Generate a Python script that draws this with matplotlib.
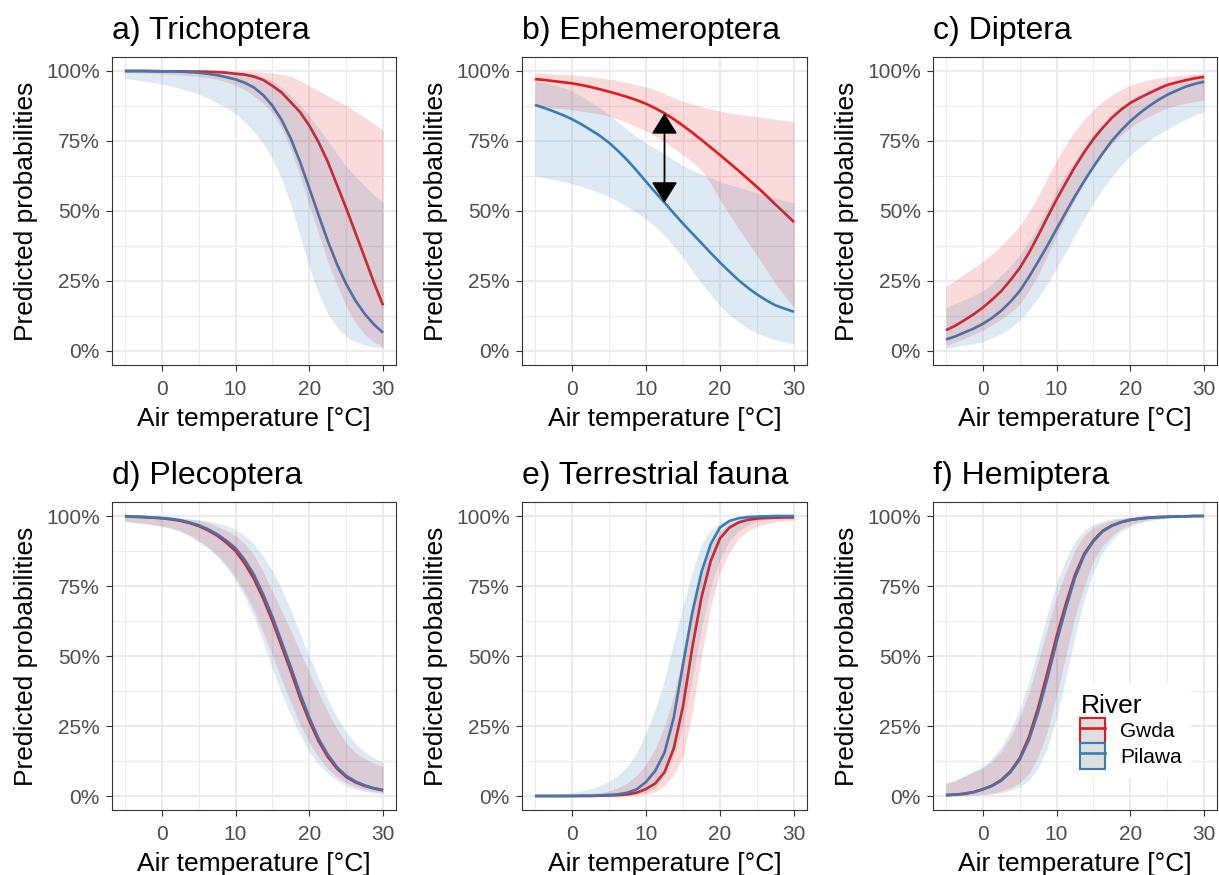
import matplotlib
matplotlib.use("Agg")
import matplotlib.pyplot as plt
from matplotlib.patches import Patch
from matplotlib.lines import Line2D
from matplotlib.legend_handler import HandlerTuple

plt.rcParams['font.family'] = ['Liberation Sans', 'DejaVu Sans']

temperature = [-5, -3.75, -2.5, -1.25, 0, 1.25, 2.5, 3.75, 5, 6.25, 7.5, 8.75, 10, 11.25,
               12.5, 13.75, 15, 16.25, 17.5, 18.75, 20, 21.25, 22.5, 23.75, 25, 26.25,
               27.5, 28.75, 30]

titles = ["a) Trichoptera", "b) Ephemeroptera", "c) Diptera",
          "d) Plecoptera", "e) Terrestrial fauna", "f) Hemiptera"]
rivers = ["Gwda", "Pilawa"]

# a) Trichoptera
a_gwda_fit = [1.0, 1.0, 1.0, 1.0, 0.999, 0.999, 0.999, 0.998, 0.998, 0.997, 0.996, 0.994, 0.99, 0.987,
              0.98, 0.968, 0.947, 0.923, 0.888, 0.853, 0.805, 0.746, 0.676, 0.593, 0.51, 0.422,
              0.334, 0.245, 0.163]
a_gwda_lo = [0.995, 0.994, 0.993, 0.992, 0.99, 0.988, 0.986, 0.983, 0.98, 0.976, 0.97, 0.961, 0.95, 0.933,
             0.91, 0.885, 0.85, 0.795, 0.72, 0.625, 0.52, 0.42, 0.32, 0.235, 0.16, 0.1, 0.06, 0.033, 0.015]
a_gwda_hi = [1.0, 1.0, 1.0, 1.0, 1.0, 1.0, 1.0, 1.0, 1.0, 1.0, 1.0, 1.0, 0.999, 0.999,
             0.998, 0.996, 0.993, 0.988, 0.98, 0.966, 0.947, 0.93, 0.912, 0.894, 0.876, 0.856,
             0.835, 0.812, 0.788]
a_pil_fit = [1.0, 1.0, 1.0, 0.999, 0.999, 0.999, 0.998, 0.996, 0.994, 0.99, 0.985, 0.978, 0.97, 0.958,
             0.941, 0.914, 0.876, 0.825, 0.758, 0.675, 0.581, 0.486, 0.393, 0.31, 0.239, 0.18,
             0.133, 0.095, 0.065]
a_pil_lo = [0.973, 0.969, 0.964, 0.959, 0.953, 0.946, 0.937, 0.928, 0.917, 0.903, 0.886, 0.868, 0.847,
            0.818, 0.782, 0.74, 0.688, 0.615, 0.522, 0.41, 0.298, 0.205, 0.133, 0.085, 0.051, 0.033,
            0.021, 0.014, 0.009]
a_pil_hi = [1.0, 1.0, 1.0, 1.0, 1.0, 1.0, 1.0, 1.0, 1.0, 0.999, 0.999, 0.998, 0.998, 0.995,
            0.99, 0.98, 0.965, 0.942, 0.912, 0.878, 0.84, 0.796, 0.75, 0.705, 0.66, 0.622,
            0.59, 0.558, 0.53]

# b) Ephemeroptera
b_gwda_fit = [0.971, 0.968, 0.964, 0.96, 0.956, 0.95, 0.943, 0.935, 0.926, 0.917, 0.907, 0.896, 0.883,
              0.867, 0.849, 0.828, 0.805, 0.78, 0.754, 0.727, 0.70, 0.672, 0.644, 0.615, 0.586,
              0.555, 0.523, 0.492, 0.46]
b_gwda_lo = [0.874, 0.871, 0.868, 0.865, 0.862, 0.857, 0.852, 0.846, 0.839, 0.828, 0.815, 0.801, 0.786,
             0.768, 0.747, 0.724, 0.70, 0.675, 0.645, 0.598, 0.54, 0.488, 0.437, 0.388, 0.34, 0.29,
             0.24, 0.197, 0.155]
b_gwda_hi = [0.992, 0.991, 0.989, 0.988, 0.986, 0.983, 0.979, 0.975, 0.971, 0.965, 0.958, 0.951, 0.943,
             0.932, 0.92, 0.905, 0.892, 0.881, 0.872, 0.864, 0.857, 0.851, 0.846, 0.841, 0.837, 0.832,
             0.828, 0.824, 0.82]
b_pil_fit = [0.879, 0.868, 0.856, 0.843, 0.828, 0.81, 0.79, 0.769, 0.744, 0.714, 0.681, 0.644, 0.605,
             0.567, 0.53, 0.492, 0.455, 0.42, 0.385, 0.35, 0.316, 0.284, 0.253, 0.226, 0.202, 0.181,
             0.163, 0.151, 0.14]
b_pil_lo = [0.626, 0.619, 0.612, 0.605, 0.598, 0.588, 0.577, 0.565, 0.551, 0.534, 0.515, 0.494, 0.471,
            0.444, 0.412, 0.375, 0.333, 0.287, 0.242, 0.2, 0.162, 0.13, 0.103, 0.081, 0.064, 0.051,
            0.04, 0.032, 0.025]
b_pil_hi = [0.966, 0.959, 0.95, 0.941, 0.929, 0.911, 0.89, 0.868, 0.844, 0.817, 0.79, 0.765, 0.743,
            0.724, 0.705, 0.683, 0.662, 0.646, 0.632, 0.618, 0.604, 0.594, 0.585, 0.575, 0.564, 0.555,
            0.546, 0.537, 0.529]
b_arrow_temp = 12.5
b_arrow_from = 0.53
b_arrow_to = 0.849

# c) Diptera
c_gwda_fit = [0.074, 0.09, 0.11, 0.131, 0.155, 0.183, 0.214, 0.253, 0.296, 0.35, 0.412, 0.477, 0.541,
              0.6, 0.658, 0.71, 0.757, 0.797, 0.833, 0.862, 0.886, 0.904, 0.92, 0.936, 0.95, 0.959,
              0.967, 0.974, 0.979]
c_gwda_lo = [0.02, 0.032, 0.045, 0.059, 0.074, 0.093, 0.114, 0.138, 0.167, 0.215, 0.272, 0.34, 0.412,
             0.478, 0.541, 0.602, 0.658, 0.702, 0.74, 0.771, 0.798, 0.82, 0.838, 0.854, 0.868, 0.877,
             0.885, 0.891, 0.897]
c_gwda_hi = [0.231, 0.252, 0.275, 0.297, 0.319, 0.347, 0.377, 0.41, 0.447, 0.497, 0.553, 0.617, 0.681,
             0.737, 0.786, 0.827, 0.862, 0.891, 0.915, 0.934, 0.95, 0.96, 0.968, 0.974, 0.979, 0.983,
             0.986, 0.989, 0.991]
c_pil_fit = [0.041, 0.052, 0.066, 0.08, 0.097, 0.118, 0.144, 0.176, 0.214, 0.264, 0.319, 0.376, 0.436,
             0.495, 0.553, 0.607, 0.658, 0.706, 0.751, 0.788, 0.821, 0.849, 0.874, 0.896, 0.915, 0.93,
             0.944, 0.954, 0.962]
c_pil_lo = [0.01, 0.015, 0.02, 0.026, 0.033, 0.046, 0.062, 0.083, 0.109, 0.146, 0.19, 0.24, 0.296,
            0.353, 0.412, 0.472, 0.529, 0.578, 0.623, 0.663, 0.699, 0.726, 0.751, 0.772, 0.792, 0.81,
            0.827, 0.842, 0.856]
c_pil_hi = [0.155, 0.17, 0.183, 0.198, 0.214, 0.24, 0.27, 0.304, 0.342, 0.392, 0.447, 0.51, 0.576,
            0.63, 0.681, 0.73, 0.775, 0.808, 0.839, 0.866, 0.891, 0.91, 0.925, 0.938, 0.95, 0.959,
            0.967, 0.974, 0.979]

# d) Plecoptera
d_gwda_fit = [0.999, 0.997, 0.996, 0.994, 0.992, 0.988, 0.983, 0.975, 0.964, 0.949, 0.93, 0.905, 0.875,
              0.83, 0.775, 0.705, 0.625, 0.535, 0.445, 0.35, 0.268, 0.196, 0.14, 0.098, 0.068, 0.049,
              0.036, 0.027, 0.02]
d_gwda_lo = [0.982, 0.978, 0.975, 0.97, 0.965, 0.958, 0.947, 0.932, 0.912, 0.89, 0.862, 0.826, 0.782,
             0.727, 0.664, 0.585, 0.5, 0.415, 0.334, 0.255, 0.19, 0.138, 0.098, 0.068, 0.047, 0.033,
             0.023, 0.016, 0.012]
d_gwda_hi = [0.999, 0.998, 0.998, 0.997, 0.995, 0.993, 0.991, 0.988, 0.985, 0.976, 0.963, 0.948, 0.93,
             0.9, 0.86, 0.8, 0.73, 0.66, 0.59, 0.515, 0.44, 0.37, 0.3, 0.24, 0.19, 0.155, 0.133,
             0.117, 0.104]
d_pil_fit = [1.0, 0.998, 0.997, 0.995, 0.993, 0.99, 0.985, 0.977, 0.967, 0.953, 0.935, 0.912, 0.885,
             0.843, 0.79, 0.72, 0.64, 0.55, 0.46, 0.365, 0.28, 0.205, 0.148, 0.103, 0.072, 0.052,
             0.038, 0.028, 0.021]
d_pil_lo = [0.98, 0.976, 0.972, 0.967, 0.962, 0.955, 0.944, 0.928, 0.908, 0.885, 0.855, 0.817, 0.77,
            0.71, 0.64, 0.55, 0.452, 0.365, 0.287, 0.218, 0.157, 0.113, 0.08, 0.055, 0.035, 0.024,
            0.016, 0.011, 0.007]
d_pil_hi = [0.999, 0.999, 0.998, 0.998, 0.997, 0.996, 0.994, 0.991, 0.987, 0.982, 0.975, 0.966, 0.953,
            0.93, 0.9, 0.857, 0.805, 0.74, 0.664, 0.58, 0.5, 0.42, 0.346, 0.282, 0.228, 0.188,
            0.157, 0.135, 0.121]

# e) Terrestrial fauna
e_gwda_fit = [0.0, 0.0, 0.0, 0.0, 0.0, 0.0, 0.0, 0.001, 0.002, 0.003, 0.006, 0.012, 0.025, 0.045,
              0.085, 0.17, 0.32, 0.53, 0.71, 0.84, 0.92, 0.958, 0.977, 0.986, 0.991, 0.993, 0.994,
              0.995, 0.995]
e_gwda_lo = [0.0, 0.0, 0.0, 0.0, 0.0, 0.0, 0.0, 0.0, 0.0, 0.0, 0.001, 0.003, 0.006, 0.015, 0.036,
             0.075, 0.142, 0.3, 0.5, 0.68, 0.8, 0.87, 0.92, 0.947, 0.962, 0.972, 0.979, 0.983, 0.986]
e_gwda_hi = [0.0, 0.0, 0.001, 0.002, 0.003, 0.005, 0.008, 0.012, 0.018, 0.03, 0.047, 0.075, 0.112,
             0.17, 0.249, 0.36, 0.5, 0.66, 0.79, 0.89, 0.945, 0.972, 0.986, 0.993, 0.997, 0.998,
             0.998, 0.998, 0.998]
e_pil_fit = [0.0, 0.0, 0.0, 0.0, 0.0, 0.001, 0.001, 0.002, 0.004, 0.006, 0.012, 0.024, 0.05, 0.09,
             0.155, 0.28, 0.47, 0.655, 0.8, 0.9, 0.959, 0.982, 0.992, 0.996, 0.998, 0.999, 1.0,
             1.0, 1.0]
e_pil_lo = [0.0, 0.0, 0.0, 0.0, 0.0, 0.0, 0.0, 0.001, 0.001, 0.002, 0.003, 0.006, 0.012, 0.03,
            0.071, 0.14, 0.25, 0.42, 0.6, 0.75, 0.846, 0.91, 0.947, 0.968, 0.982, 0.988, 0.993,
            0.995, 0.997]
e_pil_hi = [0.002, 0.003, 0.005, 0.008, 0.012, 0.018, 0.026, 0.037, 0.053, 0.075, 0.107, 0.155,
            0.225, 0.31, 0.414, 0.55, 0.68, 0.8, 0.9, 0.95, 0.975, 0.988, 0.995, 0.998, 1.0, 1.0,
            1.0, 1.0, 1.0]

# f) Hemiptera
f_gwda_fit = [0.003, 0.005, 0.008, 0.014, 0.024, 0.037, 0.057, 0.088, 0.135, 0.21, 0.315, 0.44,
              0.57, 0.685, 0.79, 0.865, 0.913, 0.947, 0.966, 0.978, 0.986, 0.991, 0.994, 0.996,
              0.997, 0.998, 0.999, 1.0, 1.0]
f_gwda_lo = [0.0, 0.001, 0.002, 0.004, 0.006, 0.01, 0.018, 0.03, 0.047, 0.08, 0.14, 0.23, 0.36,
             0.5, 0.64, 0.75, 0.84, 0.895, 0.93, 0.955, 0.97, 0.98, 0.986, 0.99, 0.994, 0.996,
             0.997, 0.998, 0.998]
f_gwda_hi = [0.045, 0.055, 0.07, 0.085, 0.1, 0.125, 0.16, 0.21, 0.28, 0.37, 0.48, 0.6, 0.71, 0.8,
             0.88, 0.93, 0.96, 0.975, 0.985, 0.99, 0.994, 0.996, 0.998, 0.999, 1.0, 1.0, 1.0,
             1.0, 1.0]
f_pil_fit = [0.003, 0.005, 0.008, 0.014, 0.024, 0.036, 0.055, 0.085, 0.13, 0.2, 0.3, 0.42, 0.55,
             0.67, 0.78, 0.86, 0.91, 0.945, 0.965, 0.978, 0.986, 0.991, 0.994, 0.996, 0.997,
             0.998, 0.999, 1.0, 1.0]
f_pil_lo = [0.0, 0.001, 0.002, 0.003, 0.004, 0.007, 0.012, 0.02, 0.033, 0.055, 0.1, 0.17, 0.28,
            0.42, 0.57, 0.7, 0.8, 0.87, 0.915, 0.945, 0.963, 0.975, 0.983, 0.988, 0.992, 0.994,
            0.996, 0.997, 0.998]
f_pil_hi = [0.045, 0.056, 0.072, 0.09, 0.105, 0.135, 0.175, 0.235, 0.31, 0.41, 0.53, 0.65, 0.76,
            0.845, 0.91, 0.95, 0.97, 0.982, 0.99, 0.994, 0.996, 0.998, 0.999, 1.0, 1.0, 1.0, 1.0,
            1.0, 1.0]

x_ticks = [0, 10, 20, 30]
y_ticks = [0, 0.25, 0.5, 0.75, 1.0]
y_tick_labels = ["0%", "25%", "50%", "75%", "100%"]

panels = [
    (a_gwda_fit, a_gwda_lo, a_gwda_hi, a_pil_fit, a_pil_lo, a_pil_hi),
    (b_gwda_fit, b_gwda_lo, b_gwda_hi, b_pil_fit, b_pil_lo, b_pil_hi),
    (c_gwda_fit, c_gwda_lo, c_gwda_hi, c_pil_fit, c_pil_lo, c_pil_hi),
    (d_gwda_fit, d_gwda_lo, d_gwda_hi, d_pil_fit, d_pil_lo, d_pil_hi),
    (e_gwda_fit, e_gwda_lo, e_gwda_hi, e_pil_fit, e_pil_lo, e_pil_hi),
    (f_gwda_fit, f_gwda_lo, f_gwda_hi, f_pil_fit, f_pil_lo, f_pil_hi),
]

RED = "#E41A1C"
BLUE = "#377EB8"
W, H = 1219, 875
fig = plt.figure(figsize=(W / 100, H / 100), dpi=100)

col_x = [(112, 396), (522, 807), (933, 1217)]
row_y = [(57, 365), (502, 810)]

axes = []
for i in range(6):
    r, c = divmod(i, 3)
    x0, x1 = col_x[c]
    y0, y1 = row_y[r]
    ax = fig.add_axes([x0 / W, 1 - y1 / H, (x1 - x0) / W, (y1 - y0) / H])
    axes.append(ax)
    gfit, glo, ghi, pfit, plo, phi = panels[i]

    ax.plot(temperature, gfit, color=RED, lw=1.9, zorder=3, solid_capstyle='butt',
            solid_joinstyle='round')
    ax.plot(temperature, pfit, color=BLUE, lw=1.9, zorder=3, solid_capstyle='butt',
            solid_joinstyle='round')
    ax.fill_between(temperature, glo, ghi, color=RED, alpha=0.16, lw=0, zorder=4)
    ax.fill_between(temperature, plo, phi, color=BLUE, alpha=0.16, lw=0, zorder=4)

    ax.set_xlim(-6.75, 31.75)
    ax.set_ylim(-0.05, 1.05)
    ax.set_xticks(x_ticks)
    ax.set_xticks([-5, 5, 15, 25], minor=True)
    ax.set_yticks(y_ticks)
    ax.set_yticklabels(y_tick_labels)
    ax.set_yticks([0.125, 0.375, 0.625, 0.875], minor=True)
    ax.grid(which='major', color='#EBEBEB', lw=1.5, zorder=0)
    ax.grid(which='minor', color='#EBEBEB', lw=0.8, zorder=0)
    ax.set_axisbelow(True)
    ax.tick_params(which='major', length=4.3, width=0.8, color='#333333',
                   labelsize=15, labelcolor='#4D4D4D')
    ax.tick_params(axis='x', which='major', pad=6.5)
    ax.tick_params(axis='y', which='major', pad=4.5)
    ax.tick_params(which='minor', length=0)
    for s in ax.spines.values():
        s.set_color('#333333')
        s.set_linewidth(0.8)
    ax.set_xlabel("Air temperature [°C]", fontsize=19, labelpad=6)
    ax.set_ylabel("Predicted probabilities", fontsize=19, labelpad=6)
    ax.set_title(titles[i], loc='left', fontsize=23, pad=13)

# arrow in panel b
axes[1].annotate('', xy=(b_arrow_temp, b_arrow_to), xytext=(b_arrow_temp, b_arrow_from),
                 arrowprops=dict(arrowstyle='<|-|>,head_length=0.8,head_width=0.5',
                                 mutation_scale=16, color='black', lw=1.3,
                                 shrinkA=0, shrinkB=0), zorder=6)

# legend in panel f
handles = []
for col in (RED, BLUE):
    p = Patch(facecolor='#DEDEDE', edgecolor=col, linewidth=1.5)
    l = Line2D([], [], color=col, lw=1.9)
    handles.append((p, l))
leg = axes[5].legend(handles, rivers, title="River", loc='lower right',
                     bbox_to_anchor=(0.945, 0.07),
                     handler_map={tuple: HandlerTuple(ndivide=1)},
                     fontsize=15, title_fontsize=19, frameon=True,
                     facecolor='white', edgecolor='none', framealpha=1,
                     handlelength=1.2, handleheight=1.5, handletextpad=0.7,
                     labelspacing=0.0, borderpad=0.45, alignment='left')
leg.set_zorder(10)

fig.savefig("out.png", dpi=100)
